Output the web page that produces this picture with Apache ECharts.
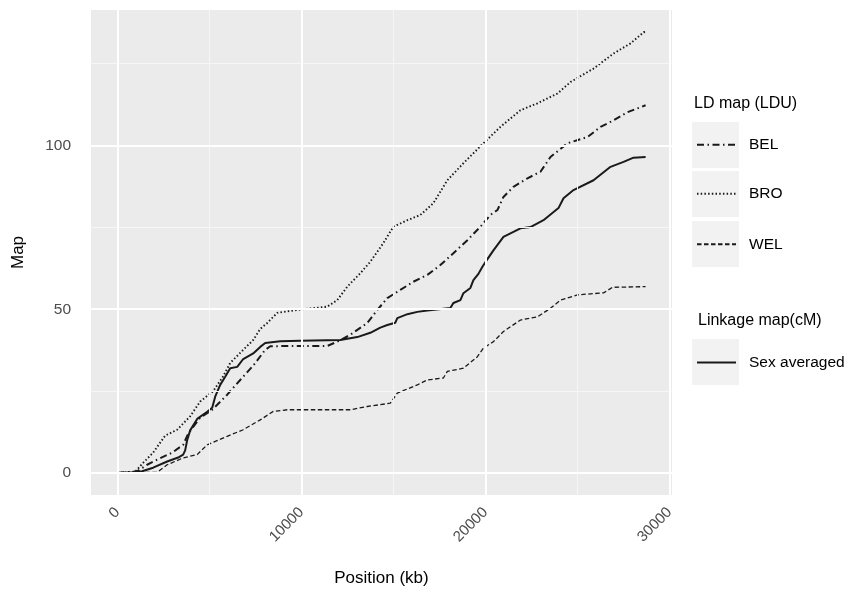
<!DOCTYPE html>
<html>
<head>
<meta charset="utf-8">
<script src="https://cdn.jsdelivr.net/npm/echarts@6/dist/echarts.min.js"></script>
<style>
html,body{margin:0;padding:0;background:#fff;}
#chart{width:846px;height:593px;}
</style>
</head>
<body>
<div id="chart"></div>
<script>
// ---- data (Position kb, Map value) ----
const belX = [0,1071,1615,2322,2975,3573,3845,4497,5150,5966,6673,7380,8032,8304,9935,11404,11948,12655,13579,14123,14666,15373,16080,16842,17548,18256,19017,19725,20268,20649,20976,21520,22281,22988,23532,24456,25544,26251,26958,27720,28700];
const belY = [0,0.5,2.5,4.5,6.2,8.6,12.0,16.9,19.3,23.9,28.4,32.8,37.6,38.7,38.8,38.8,40.1,42.2,45.8,49.8,53.4,55.9,58.4,60.5,63.5,67.1,71.1,75.2,78.8,80.3,84.3,87.4,90.0,92.0,96.5,100.7,102.6,105.7,107.7,110.2,112.3];

const broX = [0,960,1398,1941,2594,3246,3953,4497,5204,5748,6129,6836,7380,7760,8141,8685,9772,11404,11948,12491,13198,13742,14449,14993,15754,16461,17168,17929,18800,19887,20812,21900,22824,23912,24619,25870,26958,27883,28590,28700];
const broY = [0,0.3,3.1,6.2,11.4,13.2,17.3,21.8,25.0,29.5,33.6,37.6,40.6,44.0,45.8,48.9,49.8,50.8,52.8,56.9,61.0,64.5,70.2,75.2,77.2,78.8,82.4,89.4,94.6,100.7,105.7,110.8,112.9,115.9,119.4,123.5,128.1,131.2,134.6,134.7];

const welX = [0,2159,2703,3573,4334,4878,5966,6836,7760,8467,9228,12655,13579,14829,15210,16298,16842,17712,17929,18800,19561,19887,20432,20976,21900,22824,23532,24076,24999,26414,26903,28700];
const welY = [0,0.2,2.5,4.6,5.6,8.6,11.2,13.2,16.2,18.8,19.3,19.3,20.3,21.3,24.4,26.9,28.4,29.0,31.0,32.0,35.5,38.1,40.1,43.2,46.7,47.7,50.3,52.8,54.4,55.0,56.7,56.9];

const sexX = [0,900,1343,1941,2703,3301,3573,3682,3790,3953,4334,4878,5150,5313,5585,5857,6129,6510,6836,7380,7760,8032,8848,9935,12110,13034,13742,14285,14666,15101,15210,15754,16298,16842,18093,18256,18637,18800,19180,19344,19616,19833,20105,20432,20976,21900,22444,23151,23967,24239,24783,25870,26795,27502,28046,28700];
const sexY = [0,0.2,0.5,1.6,3.5,4.7,5.6,6.9,10.0,13.0,16.5,18.7,19.9,23.3,26.9,29.4,32.0,32.4,34.8,36.5,38.5,39.7,40.2,40.4,40.6,41.5,42.8,44.4,45.2,45.9,47.3,48.5,49.2,49.6,50.4,51.9,52.8,54.9,56.5,58.9,60.8,63.0,65.3,68.0,72.1,74.7,75.1,77.2,80.9,83.9,86.4,89.4,93.5,95.0,96.3,96.5];

const xTicks = [0,10000,20000,30000];
const yTicks = [0,50,100];
const xMinor = [5000,15000,25000];
const yMinor = [25,75,125];

const seriesNames = ['BEL','BRO','WEL','Sex averaged'];

// ---- build ----
function pairs(xs, ys){ return xs.map((x,i)=>[x, ys[i]]); }
const xMin = -1435, xMax = 30135, yMin = -6.735, yMax = 141.4;
const FONT = '"Liberation Sans", Arial, sans-serif';
const lineColor = '#1a1a1a';

const chart = echarts.init(document.getElementById('chart'), null, {renderer:'canvas'});

function gridSeries(name, xs, ys, color, width){
  return {
    name: name, type:'line', data: [], z: 1, silent: true, animation:false,
    markLine: {
      silent: true, symbol: ['none','none'], animation:false,
      label: {show:false},
      lineStyle: {color: color, width: width, type:'solid'},
      emphasis: {disabled: true},
      data: xs.map(v=>({xAxis: v})).concat(ys.map(v=>({yAxis: v})))
    }
  };
}

const legendCenters = [144.7, 193.8, 244.3, 362.5];
function legendFor(name, center){
  return {
    data: [name], orient: 'vertical', left: 696, top: center - 8,
    itemWidth: 39, itemHeight: 20, padding: 0,
    itemStyle: {opacity: 0}, selectedMode: false,
    textStyle: {fontFamily: FONT, fontSize: 15.5, color: '#000', padding: [0,0,0,8]}
  };
}

const option = {
  backgroundColor: '#ffffff',
  animation: false,
  grid: {left: 91, top: 10, right: 174, bottom: 98, show: true, backgroundColor: '#ebebeb', borderWidth: 0, containLabel: false, outerBoundsMode: 'none'},
  title: [
    {text: 'LD map (LDU)', left: 694, top: 96, textStyle: {fontFamily: FONT, fontSize: 16, fontWeight: 'normal', color: '#000'}, padding: 0},
    {text: 'Linkage map(cM)', left: 698, top: 313, textStyle: {fontFamily: FONT, fontSize: 16, fontWeight: 'normal', color: '#000'}, padding: 0}
  ],
  graphic: [
    {type:'rect', left: 692, top: 122, shape:{width:47, height:46}, style:{fill:'#f2f2f2'}, z: 0, silent: true},
    {type:'rect', left: 692, top: 171, shape:{width:47, height:46}, style:{fill:'#f2f2f2'}, z: 0, silent: true},
    {type:'rect', left: 692, top: 221, shape:{width:47, height:46}, style:{fill:'#f2f2f2'}, z: 0, silent: true},
    {type:'rect', left: 692, top: 339, shape:{width:47, height:46}, style:{fill:'#f2f2f2'}, z: 0, silent: true}
  ],
  legend: seriesNames.map((n,i)=>legendFor(n, legendCenters[i])),
  xAxis: {
    type: 'value', min: xMin, max: xMax,
    name: 'Position (kb)', nameLocation: 'middle', nameGap: 75,
    nameTextStyle: {fontFamily: FONT, fontSize: 17, color: '#000'},
    axisLine: {show: false},
    axisTick: {show: true, length: 6, lineStyle: {color: '#333', width: 1.5}, customValues: xTicks},
    axisLabel: {customValues: xTicks, rotate: 45, margin: 15, fontFamily: FONT, fontSize: 15, color: '#4d4d4d', formatter: v => String(v)},
    splitLine: {show: false}, minorSplitLine: {show: false}
  },
  yAxis: {
    type: 'value', min: yMin, max: yMax,
    name: 'Map', nameLocation: 'middle', nameGap: 64, nameRotate: 90,
    nameTextStyle: {fontFamily: FONT, fontSize: 17, color: '#000'},
    axisLine: {show: false},
    axisTick: {show: true, length: 6, lineStyle: {color: '#333', width: 1.5}, customValues: yTicks},
    axisLabel: {customValues: yTicks, margin: 20, fontFamily: FONT, fontSize: 15.5, color: '#4d4d4d', formatter: v => String(v)},
    splitLine: {show: false}, minorSplitLine: {show: false}
  },
  series: [
    gridSeries('_minor', xMinor, yMinor, '#f6f6f6', 1),
    gridSeries('_major', xTicks, yTicks, '#ffffff', 2),
    {name: 'BEL', type: 'line', data: pairs(belX, belY), symbol: 'none', z: 3,
     lineStyle: {color: lineColor, width: 2, type: [7,3.5,1.5,3.5]}, itemStyle:{color: lineColor}},
    {name: 'BRO', type: 'line', data: pairs(broX, broY), symbol: 'none', z: 3,
     lineStyle: {color: lineColor, width: 1.9, type: [1.5,2.2]}, itemStyle:{color: lineColor}},
    {name: 'WEL', type: 'line', data: pairs(welX, welY), symbol: 'none', z: 3,
     lineStyle: {color: lineColor, width: 1.3, type: [4.5,2.5]}, itemStyle:{color: lineColor}},
    {name: 'Sex averaged', type: 'line', data: pairs(sexX, sexY), symbol: 'none', z: 3,
     lineStyle: {color: lineColor, width: 2, type: 'solid'}, itemStyle:{color: lineColor}}
  ]
};
chart.setOption(option);
</script>
</body>
</html>
